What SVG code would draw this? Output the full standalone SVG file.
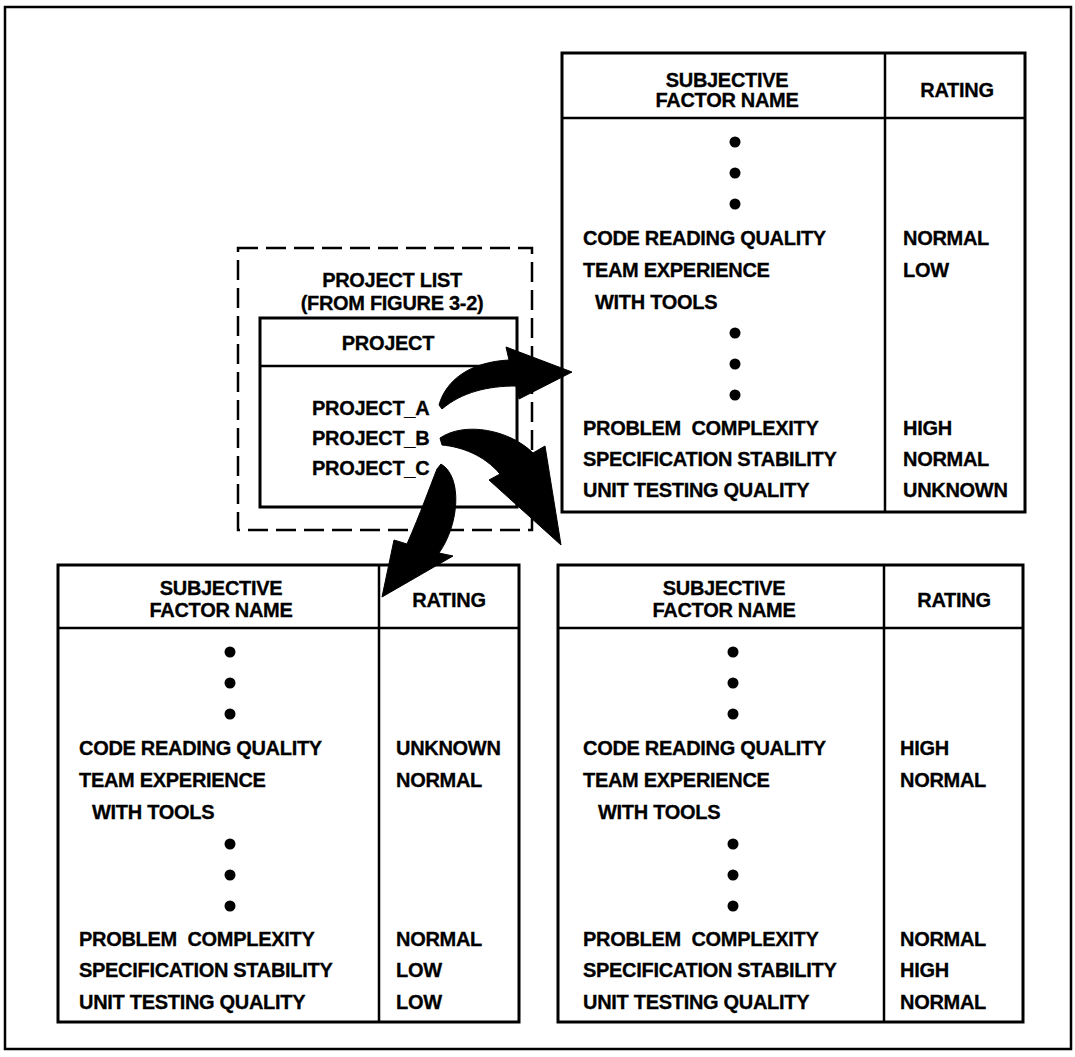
<svg xmlns="http://www.w3.org/2000/svg" xmlns:xlink="http://www.w3.org/1999/xlink" width="1075" height="1057" viewBox="0 0 1075 1057">
  <style>
    .t { font-family: "Liberation Sans", Arial, Helvetica, sans-serif; font-weight: bold; font-size: 20px; fill: #000; stroke: #000; stroke-width: 0.3px; letter-spacing: -0.3px; white-space: pre; }
    .m { text-anchor: middle; }
    .box { fill: #fff; stroke: #000; stroke-width: 3; }
    .ln { stroke: #000; stroke-width: 2.5; fill: none; }
    .dash { fill: none; stroke: #000; stroke-width: 2.5; stroke-dasharray: 20 8; }
    .arrow { fill: #000; stroke: #000; stroke-width: 1; stroke-linejoin: round; }
  </style>
  <defs>
    <!-- three stacked ellipsis dots, 31px apart -->
    <g id="dots">
      <circle cx="0" cy="0" r="5.5" fill="#000"/>
      <circle cx="0" cy="31" r="5.5" fill="#000"/>
      <circle cx="0" cy="62" r="5.5" fill="#000"/>
    </g>
  </defs>

  <rect x="0" y="0" width="1075" height="1057" fill="#fff"/>

  <!-- outer frame -->
  <g id="frame">
    <rect x="5" y="7" width="1066" height="1042" fill="none" stroke="#000" stroke-width="2.5"/>
  </g>

  <!-- project list (dashed) -->
  <g id="project-list">
    <rect class="dash" x="238" y="248" width="294" height="282"/>
    <text class="t m" x="392" y="287">PROJECT LIST</text>
    <text class="t m" x="392" y="310">(FROM FIGURE 3-2)</text>
    <rect class="box" x="260" y="318" width="257" height="189"/>
    <line class="ln" x1="260" y1="366" x2="517" y2="366"/>
    <text class="t m" x="388" y="350">PROJECT</text>
    <text class="t" x="312" y="415">PROJECT_A</text>
    <text class="t" x="312" y="445">PROJECT_B</text>
    <text class="t" x="312" y="475">PROJECT_C</text>
  </g>

  <!-- ratings for PROJECT_A -->
  <g id="table-a">
    <rect class="box" x="562" y="53" width="463" height="459"/>
    <line class="ln" x1="562" y1="118" x2="1025" y2="118"/>
    <line class="ln" x1="885" y1="53" x2="885" y2="512"/>
    <text class="t m" x="727" y="87">SUBJECTIVE</text>
    <text class="t m" x="727" y="107">FACTOR NAME</text>
    <text class="t m" x="957" y="97">RATING</text>
    <use xlink:href="#dots" x="735" y="142"/>
    <text class="t" x="583" y="245">CODE READING QUALITY</text>
    <text class="t" x="583" y="277">TEAM EXPERIENCE</text>
    <text class="t" x="595" y="309">WITH TOOLS</text>
    <use xlink:href="#dots" x="735" y="333"/>
    <text class="t" x="583" y="435" xml:space="preserve">PROBLEM  COMPLEXITY</text>
    <text class="t" x="583" y="466">SPECIFICATION STABILITY</text>
    <text class="t" x="583" y="497">UNIT TESTING QUALITY</text>
    <text class="t" x="903" y="245">NORMAL</text>
    <text class="t" x="903" y="277">LOW</text>
    <text class="t" x="903" y="435">HIGH</text>
    <text class="t" x="903" y="466">NORMAL</text>
    <text class="t" x="903" y="497">UNKNOWN</text>
  </g>

  <!-- ratings for PROJECT_C -->
  <g id="table-c">
    <rect class="box" x="58" y="565" width="461" height="457"/>
    <line class="ln" x1="58" y1="628" x2="519" y2="628"/>
    <line class="ln" x1="379" y1="565" x2="379" y2="1022"/>
    <text class="t m" x="221" y="595">SUBJECTIVE</text>
    <text class="t m" x="221" y="617">FACTOR NAME</text>
    <text class="t m" x="449" y="607">RATING</text>
    <use xlink:href="#dots" x="230" y="652"/>
    <text class="t" x="79" y="755">CODE READING QUALITY</text>
    <text class="t" x="79" y="787">TEAM EXPERIENCE</text>
    <text class="t" x="92" y="819">WITH TOOLS</text>
    <use xlink:href="#dots" x="230" y="844"/>
    <text class="t" x="79" y="946" xml:space="preserve">PROBLEM  COMPLEXITY</text>
    <text class="t" x="79" y="977">SPECIFICATION STABILITY</text>
    <text class="t" x="79" y="1009">UNIT TESTING QUALITY</text>
    <text class="t" x="396" y="755">UNKNOWN</text>
    <text class="t" x="396" y="787">NORMAL</text>
    <text class="t" x="396" y="946">NORMAL</text>
    <text class="t" x="396" y="977">LOW</text>
    <text class="t" x="396" y="1009">LOW</text>
  </g>

  <!-- ratings for PROJECT_B -->
  <g id="table-b">
    <rect class="box" x="558" y="565" width="465" height="457"/>
    <line class="ln" x1="558" y1="628" x2="1023" y2="628"/>
    <line class="ln" x1="884" y1="565" x2="884" y2="1022"/>
    <text class="t m" x="724" y="595">SUBJECTIVE</text>
    <text class="t m" x="724" y="617">FACTOR NAME</text>
    <text class="t m" x="954" y="607">RATING</text>
    <use xlink:href="#dots" x="733" y="652"/>
    <text class="t" x="583" y="755">CODE READING QUALITY</text>
    <text class="t" x="583" y="787">TEAM EXPERIENCE</text>
    <text class="t" x="598" y="819">WITH TOOLS</text>
    <use xlink:href="#dots" x="733" y="844"/>
    <text class="t" x="583" y="946" xml:space="preserve">PROBLEM  COMPLEXITY</text>
    <text class="t" x="583" y="977">SPECIFICATION STABILITY</text>
    <text class="t" x="583" y="1009">UNIT TESTING QUALITY</text>
    <text class="t" x="900" y="755">HIGH</text>
    <text class="t" x="900" y="787">NORMAL</text>
    <text class="t" x="900" y="946">NORMAL</text>
    <text class="t" x="900" y="977">HIGH</text>
    <text class="t" x="900" y="1009">NORMAL</text>
  </g>

  <!-- curved block arrows from each project to its table -->
  <g id="connectors">
    <path class="arrow" d="M 439,405 C 446,380 470,362 509,360 L 506,347 L 572,372 L 519,399 L 516,386 C 488,386 462,392 442,409 Z"/>
    <path class="arrow" d="M 440,438 C 465,421 510,430 533,453 L 545,446 L 561,545 L 489,480 L 500,474 C 484,455 462,447 442,445 Z"/>
    <path class="arrow" d="M 441,464 C 463,477 459,525 439,553 L 453,556 L 382,597 L 394,540 L 407,544 C 421,512 429,489 437,469 Z"/>
  </g>
</svg>
